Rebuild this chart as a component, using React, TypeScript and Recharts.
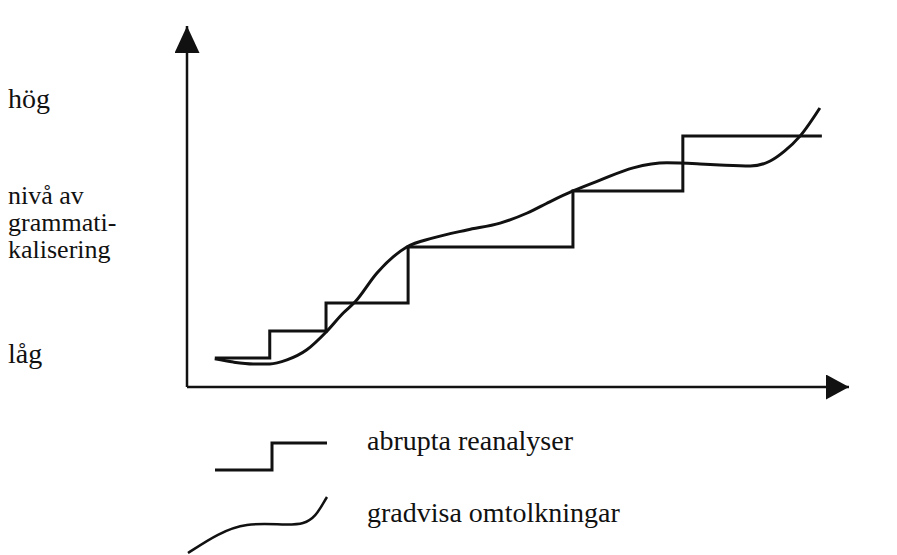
import React from "react";
import { ComposedChart, Line, XAxis, YAxis, Legend } from "recharts";

// abrupt reanalyses: level jumps at discrete points in time
const stepTime = [4.2, 12.5, 21.0, 33.4, 58.3, 74.9, 95.9];
const stepLevel = [8.0, 15.5, 23.3, 38.8, 54.3, 69.5, 69.5];

// gradual reinterpretations: smooth path
const curveTime = [4.2, 7.0, 10.0, 12.5, 15.1, 18.1, 21.0, 23.6, 25.4, 28.7, 33.2, 37.2, 42.3, 47.3, 51.4, 54.8, 58.3, 62.4, 67.4, 72.5, 77.5, 80.5, 85.1, 88.1, 90.3, 92.6, 95.6];
const curveLevel = [7.8, 6.9, 6.4, 6.4, 7.5, 10.3, 15.2, 20.5, 23.6, 31.6, 38.8, 41.3, 43.5, 45.4, 48.2, 51.3, 54.3, 57.3, 60.7, 62.1, 61.8, 61.5, 61.2, 62.6, 65.4, 69.5, 77.3];

const levelTicks = [7.5, 78];
const levelTickLabels = ["låg", "hög"];
const axisTitleLines = ["nivå av", "grammati-", "kalisering"];
const seriesNames = ["abrupta reanalyser", "gradvisa omtolkningar"];

const stepData = stepTime.map((x, i) => ({ x, y: stepLevel[i] }));
const curveData = curveTime.map((x, i) => ({ x, y: curveLevel[i] }));

const FONT =
  "Liberation Serif, LiberationSerif, Tinos, Times New Roman, Times, DejaVu Serif, Noto Serif, FreeSerif, Georgia, serif";
const INK = "#111";
const textStyle = { fontFamily: FONT, fontSize: 28, fill: INK };

const LevelTick = (props: any) => {
  const { y, payload } = props;
  const idx = levelTicks.indexOf(payload.value);
  return (
    <text x={8} y={y + 3} fontFamily={FONT} style={textStyle}>
      {levelTickLabels[idx]}
    </text>
  );
};

const AxisTitle = (props: any) => {
  const vb = props.viewBox || { y: 26, height: 361 };
  const cy = vb.y + vb.height / 2;
  return (
    <g>
      {axisTitleLines.map((line, i) => (
        <text key={line} x={8} y={cy - 3 + i * 27} fontFamily={FONT} style={{ ...textStyle, fontSize: 26 }}>
          {line}
        </text>
      ))}
    </g>
  );
};

const LegendContent = (props: any) => {
  const payload = props.payload || [];
  return (
    <svg width={480} height={130} style={{ overflow: "visible" }}>
      {payload.map((entry: any) => {
        const isStep = entry.value === seriesNames[0];
        return (
          <g key={entry.value}>
            {isStep ? (
              <path d="M35,40 H92 V13 H147" fill="none" stroke={INK} strokeWidth={3} />
            ) : (
              <path
                d="M8,123 C25,112 45,98 67,95 S110,97 123,93 S140,78 147,67"
                fill="none"
                stroke={INK}
                strokeWidth={2.5}
              />
            )}
            <text x={187} y={isStep ? 20 : 92} fontFamily={FONT} style={textStyle}>
              {entry.value}
            </text>
          </g>
        );
      })}
    </svg>
  );
};

export default function App() {
  return (
    <div
      style={{ position: "absolute", left: 0, top: 0, width: 897, height: 555, background: "#fff", fontFamily: FONT }}
    >
      <ComposedChart width={897} height={555} margin={{ top: 26, right: 48, bottom: 167, left: 186 }}>
        <defs>
          <marker
            id="arrowX"
            viewBox="0 0 23 25"
            refX={23}
            refY={12.5}
            markerWidth={23}
            markerHeight={25}
            markerUnits="userSpaceOnUse"
            orient="auto-start-reverse"
          >
            <path d="M0,0 L23,12.5 L0,25 z" fill={INK} />
          </marker>
          <marker
            id="arrowY"
            viewBox="0 0 27 25"
            refX={27}
            refY={12.5}
            markerWidth={27}
            markerHeight={25}
            markerUnits="userSpaceOnUse"
            orient="auto-start-reverse"
          >
            <path d="M0,0 L27,12.5 L0,25 z" fill={INK} />
          </marker>
        </defs>
        <XAxis
          type="number"
          dataKey="x"
          domain={[0, 100]}
          allowDataOverflow
          height={1}
          tick={false}
          tickLine={false}
          axisLine={{ stroke: INK, strokeWidth: 2.5, markerEnd: "url(#arrowX)" }}
        />
        <YAxis
          type="number"
          domain={[0, 100]}
          allowDataOverflow
          width={1}
          ticks={levelTicks}
          tick={<LevelTick />}
          tickLine={false}
          axisLine={{ stroke: INK, strokeWidth: 2.5, markerStart: "url(#arrowY)" }}
          label={<AxisTitle />}
        />
        <Legend
          content={<LegendContent />}
          wrapperStyle={{ left: 180, top: 430, width: 480, height: 0 }}
        />
        <Line
          data={stepData}
          dataKey="y"
          name={seriesNames[0]}
          type="stepAfter"
          stroke={INK}
          strokeWidth={3}
          dot={false}
          isAnimationActive={false}
        />
        <Line
          data={curveData}
          dataKey="y"
          name={seriesNames[1]}
          type="monotone"
          stroke={INK}
          strokeWidth={3}
          dot={false}
          isAnimationActive={false}
        />
      </ComposedChart>
    </div>
  );
}
